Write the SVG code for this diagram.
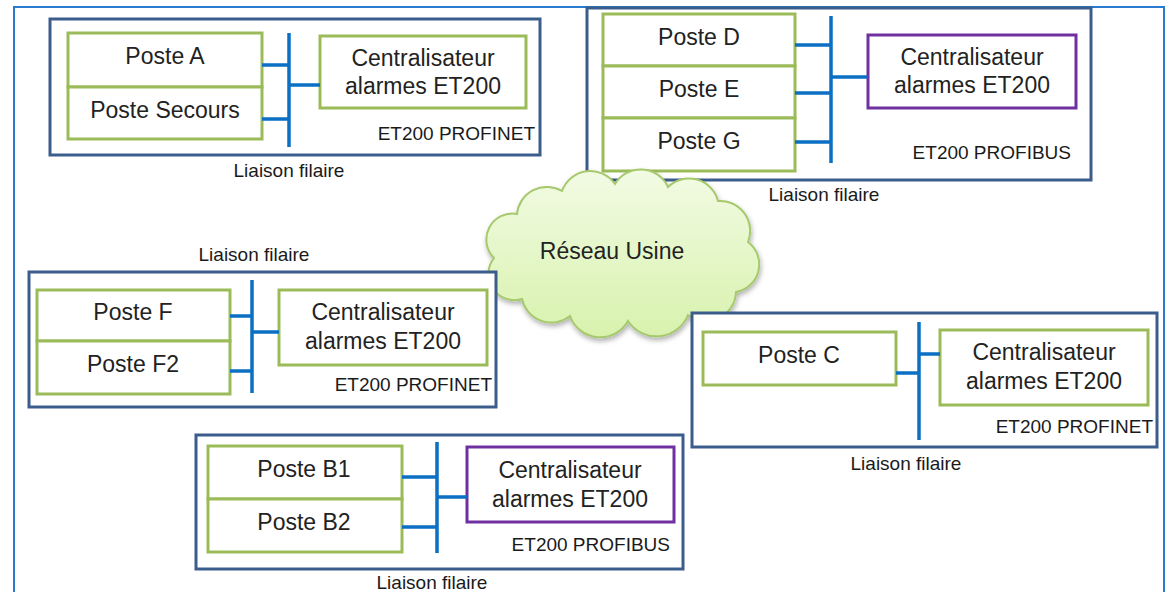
<svg xmlns="http://www.w3.org/2000/svg" width="1169" height="592" viewBox="0 0 1169 592">
<defs>
<style>
.frame{fill:none;stroke:#2a7ad0;stroke-width:2}
.cont{fill:#fff;stroke:#3b5d8c;stroke-width:3}
.box{fill:#fff;stroke:#9bbb59;stroke-width:3}
.pbox{fill:#fff;stroke:#7030a0;stroke-width:3}
.bus{fill:none;stroke:#0b70c4;stroke-width:3.5}
.t{font-family:"Liberation Sans",Arial,sans-serif;font-size:23px;fill:#222;text-anchor:middle}
.s{font-family:"Liberation Sans",Arial,sans-serif;font-size:19px;fill:#1a1a1a}
.r{text-anchor:end}
.m{text-anchor:middle}
</style>
<linearGradient id="cg" x1="0" y1="0" x2="0" y2="1">
<stop offset="0" stop-color="#f2fbe4"/>
<stop offset="1" stop-color="#d8f2ad"/>
</linearGradient>
<filter id="sh" x="-10%" y="-10%" width="130%" height="130%">
<feDropShadow dx="1" dy="3" stdDeviation="2.5" flood-color="#000" flood-opacity="0.3"/>
</filter>
</defs>
<rect width="1169" height="592" fill="#fff"/>
<rect class="frame" x="14" y="7" width="1150" height="600"/>

<g id="groupA">
<rect class="cont" x="50" y="19" width="490" height="136"/>
<g id="posteA"><rect class="box" x="68" y="33" width="194" height="54"/><text class="t" x="165" y="64">Poste A</text></g>
<g id="posteSecours"><rect class="box" x="68" y="87" width="194" height="52"/><text class="t" x="165" y="118">Poste Secours</text></g>
<g id="centralA"><rect class="box" x="320" y="36" width="206" height="72"/><text class="t" x="423" y="66">Centralisateur</text><text class="t" x="423" y="94">alarmes ET200</text></g>
<text class="s r" x="535" y="140">ET200 PROFINET</text>
<text class="s m" x="289" y="177">Liaison filaire</text>
</g>

<g id="groupD">
<rect class="cont" x="587" y="8" width="504" height="172"/>
<g id="posteD"><rect class="box" x="603" y="14" width="192" height="52"/><text class="t" x="699" y="45">Poste D</text></g>
<g id="posteE"><rect class="box" x="603" y="66" width="192" height="52"/><text class="t" x="699" y="97">Poste E</text></g>
<g id="posteG"><rect class="box" x="603" y="118" width="192" height="53"/><text class="t" x="699" y="149">Poste G</text></g>
<g id="centralD"><rect class="pbox" x="868" y="35" width="208" height="73"/><text class="t" x="972" y="65">Centralisateur</text><text class="t" x="972" y="93">alarmes ET200</text></g>
<text class="s r" x="1071" y="159">ET200 PROFIBUS</text>
<text class="s m" x="824" y="201">Liaison filaire</text>
</g>

<g id="cloud">
<path d="M494 258 A26 26 0 0 1 517 214 A30 30 0 0 1 562 191 A30 30 0 0 1 615 184 A30 30 0 0 1 668 187 A30 30 0 0 1 718 201 A30 30 0 0 1 748 242 A28 28 0 0 1 736 292 A30 30 0 0 1 688 315 A34 34 0 0 1 628 321 A32 32 0 0 1 570 316 A30 30 0 0 1 522 299 A26 26 0 0 1 494 258 Z" fill="url(#cg)" stroke="#a6c96e" stroke-width="2" filter="url(#sh)"/>
<text class="t" x="612" y="259">Réseau Usine</text>
</g>

<g id="groupF">
<rect class="cont" x="29" y="272" width="467" height="135"/>
<g id="posteF"><rect class="box" x="37" y="290" width="193" height="51"/><text class="t" x="133" y="320">Poste F</text></g>
<g id="posteF2"><rect class="box" x="37" y="341" width="193" height="53"/><text class="t" x="133" y="372">Poste F2</text></g>
<g id="centralF"><rect class="box" x="279" y="290" width="208" height="75"/><text class="t" x="383" y="320">Centralisateur</text><text class="t" x="383" y="349">alarmes ET200</text></g>
<text class="s r" x="492" y="391">ET200 PROFINET</text>
<text class="s m" x="254" y="261">Liaison filaire</text>
</g>

<g id="groupC">
<rect class="cont" x="692" y="313" width="465" height="134"/>
<g id="posteC"><rect class="box" x="703" y="332" width="193" height="53"/><text class="t" x="799" y="363">Poste C</text></g>
<g id="centralC"><rect class="box" x="940" y="330" width="208" height="75"/><text class="t" x="1044" y="360">Centralisateur</text><text class="t" x="1044" y="389">alarmes ET200</text></g>
<text class="s r" x="1153" y="433">ET200 PROFINET</text>
<text class="s m" x="906" y="470">Liaison filaire</text>
</g>

<g id="groupB">
<rect class="cont" x="196" y="435" width="487" height="134"/>
<g id="posteB1"><rect class="box" x="208" y="446" width="194" height="53"/><text class="t" x="304" y="477">Poste B1</text></g>
<g id="posteB2"><rect class="box" x="208" y="499" width="194" height="53"/><text class="t" x="304" y="530">Poste B2</text></g>
<g id="centralB"><rect class="pbox" x="467" y="447" width="207" height="75"/><text class="t" x="570" y="478">Centralisateur</text><text class="t" x="570" y="507">alarmes ET200</text></g>
<text class="s r" x="670" y="551">ET200 PROFIBUS</text>
<text class="s m" x="432" y="589">Liaison filaire</text>
</g>

<g id="connectors">
<path class="bus" d="M289 33V147 M262 65H289 M262 119H289 M289 85H320"/>
<path class="bus" d="M831 16V163 M795 45H831 M795 93H831 M795 142H831 M831 77H868"/>
<path class="bus" d="M252 280V393 M230 316H252 M230 371H252 M252 332H279"/>
<path class="bus" d="M919 322V440 M896 373H919 M919 354H940"/>
<path class="bus" d="M437 442V553 M402 477H437 M402 527H437 M437 497H467"/>
</g>
</svg>
